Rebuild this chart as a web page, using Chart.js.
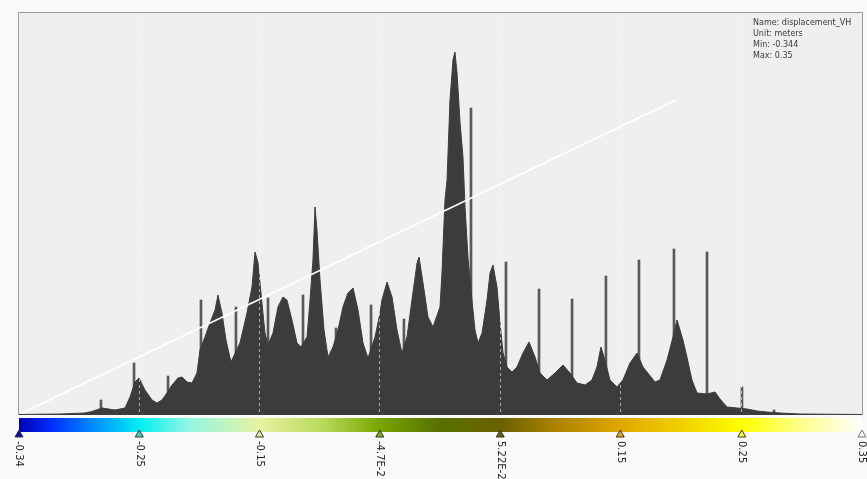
<!DOCTYPE html>
<html>
<head>
<meta charset="utf-8">
<title>displacement_VH histogram</title>
<script src="https://cdn.jsdelivr.net/npm/chart.js@4.4.1/dist/chart.umd.min.js"></script>
<style>
    html, body { margin: 0; padding: 0; background: #fafafa; }
    #wrap { width: 867px; height: 479px; }
</style>
</head>
<body>
<div id="wrap"><canvas id="histChart" width="867" height="479"></canvas></div>
<script>
// Axis ticks (value range -0.344 .. 0.35)
const tickValues = [-0.344, -0.245, -0.146, -0.047, 0.0522, 0.151, 0.251, 0.35];
const tickLabels = ['-0.34', '-0.25', '-0.15', '-4.7E-2', '5.22E-2', '0.15', '0.25', '0.35'];

// Histogram outline (value, count)
const histX = [
    -0.344, -0.3102, -0.2897, -0.2839, -0.2757, -0.2650, -0.2567, -0.2526, -0.2485, -0.2452,
    -0.2403, -0.2345, -0.2304, -0.2263, -0.2222, -0.2180, -0.2131, -0.2098, -0.2057, -0.2016,
    -0.1975, -0.1950, -0.1909, -0.1868, -0.1826, -0.1802, -0.1769, -0.1736, -0.1695, -0.1621,
    -0.1563, -0.1522, -0.1497, -0.1472, -0.1440, -0.1415, -0.1390, -0.1349, -0.1308, -0.1267,
    -0.1234, -0.1193, -0.1151, -0.1118, -0.1069, -0.1044, -0.1020, -0.1003, -0.0987, -0.0962,
    -0.0929, -0.0896, -0.0855, -0.0814, -0.0773, -0.0732, -0.0690, -0.0649, -0.0608, -0.0567,
    -0.0509, -0.0468, -0.0452, -0.0410, -0.0369, -0.0328, -0.0287, -0.0246, -0.0205, -0.0163,
    -0.0147, -0.0114, -0.0073, -0.0032, 0.0026, 0.0042, 0.0067, 0.0084, 0.0108, 0.0125,
    0.0133, 0.0149, 0.0166, 0.0191, 0.0215, 0.0232, 0.0256, 0.0289, 0.0314, 0.0339,
    0.0372, 0.0413, 0.0438, 0.0462, 0.0495, 0.0520, 0.0545, 0.0577, 0.0619, 0.0660,
    0.0709, 0.0759, 0.0808, 0.0849, 0.0907, 0.0973, 0.1038, 0.1096, 0.1154, 0.1220,
    0.1277, 0.1318, 0.1351, 0.1384, 0.1425, 0.1483, 0.1532, 0.1590, 0.1648, 0.1697,
    0.1796, 0.1837, 0.1895, 0.1944, 0.1977, 0.2026, 0.2059, 0.2100, 0.2142, 0.2224,
    0.2290, 0.2331, 0.2389, 0.2471, 0.2553, 0.2636, 0.2718, 0.2825, 0.2990, 0.35
];
const histY = [
    0.5, 1, 2, 3.5, 7, 5, 7, 18, 33, 37,
    25, 15, 12, 15, 22, 30, 37, 38, 33, 32,
    42, 65, 78, 92, 105, 120, 102, 75, 53, 72,
    102, 128, 163, 152, 112, 82, 70, 82, 108, 118,
    115, 95, 72, 68, 78, 115, 155, 208, 185, 135,
    85, 58, 68, 85, 108, 122, 127, 105, 72, 57,
    78, 102, 115, 133, 118, 85, 62, 78, 115, 152,
    158, 132, 98, 88, 108, 142, 215, 235, 315, 342,
    355, 363, 342, 292, 258, 208, 158, 115, 85, 72,
    82, 115, 142, 150, 128, 92, 62, 48, 43, 48,
    62, 73, 58, 42, 35, 42, 50, 42, 32, 30,
    35, 48, 68, 55, 35, 28, 35, 52, 62, 48,
    33, 35, 55, 78, 95, 75, 58, 35, 22, 21,
    23, 16, 8, 7, 6, 4, 3, 2, 1, 0.5
];

// Isolated tall single-bin spikes
const spikeX = [-0.2765, -0.2493, -0.2213, -0.1942, -0.1654, -0.1390, -0.1102, -0.0830, -0.0542, -0.0271,
    0.0281, 0.0569, 0.0841, 0.1113, 0.1392, 0.1664, 0.1952, 0.2224, 0.2512, 0.2776];
const spikeY = [15, 52, 39, 115, 108, 117, 120, 87, 110, 96,
    307, 153, 126, 116, 139, 155, 166, 163, 28, 5];

// White reference line
const trendX = [-0.3415, 0.1969];
const trendY = [2, 315];

const infoLines = ['Name: displacement_VH', 'Unit: meters', 'Min: -0.344', 'Max: 0.35'];

// Colour ramp under the plot
const rampPos = [0, 0.04, 0.09, 0.142, 0.2, 0.286, 0.36, 0.428, 0.5, 0.571, 0.64, 0.714, 0.78, 0.857, 0.93, 1];
const rampCol = ['#0000b4', '#0030ff', '#0090ff', '#00eef0', '#90f6e4', '#e8f2a0', '#b8da5c', '#78a600',
    '#587000', '#6a6000', '#b08400', '#e0a800', '#f0cc00', '#ffff00', '#ffff90', '#ffffff'];
const markerCol = ['#0a0ac8', '#38d8d0', '#e4eea0', '#7eaa10', '#6c6200', '#e2aa10', '#ffff20', '#ffffff'];

const toPoints = (xs, ys) => xs.map((x, i) => ({ x: x, y: ys[i] }));

const decorPlugin = {
    id: 'decor',
    beforeDraw: function (chart) {
        const ctx = chart.ctx;
        const a = chart.chartArea;
        ctx.save();
        ctx.fillStyle = '#fafafa';
        ctx.fillRect(0, 0, chart.width, chart.height);
        ctx.fillStyle = '#efefef';
        ctx.fillRect(a.left, a.top, a.right - a.left, a.bottom - a.top);
        ctx.restore();
    },
    afterDraw: function (chart) {
        const ctx = chart.ctx;
        const a = chart.chartArea;
        const xs = chart.scales.x;
        ctx.save();

        // frame
        ctx.strokeStyle = '#9a9a9a';
        ctx.lineWidth = 1;
        ctx.beginPath();
        ctx.moveTo(a.left - 0.5, a.bottom);
        ctx.lineTo(a.left - 0.5, a.top - 0.5);
        ctx.lineTo(a.right + 0.5, a.top - 0.5);
        ctx.lineTo(a.right + 0.5, a.bottom);
        ctx.stroke();

        // colour bar
        const barTop = a.bottom + 3;
        const barH = 14;
        const grad = ctx.createLinearGradient(a.left, 0, a.right, 0);
        rampPos.forEach((p, i) => grad.addColorStop(p, rampCol[i]));
        ctx.fillStyle = grad;
        ctx.fillRect(a.left, barTop, a.right - a.left, barH);

        // markers + rotated labels
        ctx.font = '10px "DejaVu Sans", sans-serif';
        tickValues.forEach((v, i) => {
            const px = xs.getPixelForValue(v);
            const ty = barTop + barH - 2;
            ctx.beginPath();
            ctx.moveTo(px, ty);
            ctx.lineTo(px - 4, ty + 7);
            ctx.lineTo(px + 4, ty + 7);
            ctx.closePath();
            ctx.fillStyle = markerCol[i];
            ctx.fill();
            ctx.strokeStyle = i === tickValues.length - 1 ? '#777777' : '#333333';
            ctx.stroke();

            ctx.save();
            ctx.translate(px, ty + 11);
            ctx.rotate(Math.PI / 2);
            ctx.fillStyle = '#222222';
            ctx.textAlign = 'left';
            ctx.textBaseline = 'middle';
            ctx.fillText(tickLabels[i], 0, 0);
            ctx.restore();
        });

        // info block
        ctx.font = '8px "DejaVu Sans", sans-serif';
        ctx.fillStyle = '#3a3a3a';
        ctx.textAlign = 'left';
        ctx.textBaseline = 'middle';
        infoLines.forEach((t, i) => ctx.fillText(t, 753, 23 + i * 11));

        ctx.restore();
    }
};

const chart = new Chart(document.getElementById('histChart').getContext('2d'), {
    type: 'line',
    data: {
        datasets: [{
            label: 'trend',
            data: toPoints(trendX, trendY),
            borderColor: '#ffffff',
            borderWidth: 1.6,
            pointRadius: 0,
            fill: false,
            order: 0
        }, {
            label: 'histogram',
            data: toPoints(histX, histY),
            borderColor: '#3c3c3c',
            backgroundColor: '#3c3c3c',
            borderWidth: 1,
            pointRadius: 0,
            tension: 0,
            fill: 'origin',
            order: 1
        }, {
            type: 'bar',
            label: 'spikes',
            data: toPoints(spikeX, spikeY),
            backgroundColor: '#5a5a5a',
            barThickness: 2,
            order: 2
        }]
    },
    options: {
        responsive: false,
        animation: false,
        devicePixelRatio: 1,
        layout: { padding: { left: 19, right: 5, top: 13, bottom: 64 } },
        scales: {
            x: {
                type: 'linear',
                min: -0.344,
                max: 0.35,
                offset: false,
                afterBuildTicks: function (axis) {
                    axis.ticks = tickValues.map(v => ({ value: v }));
                },
                ticks: { display: false },
                grid: {
                    color: 'rgba(255,255,255,0.55)',
                    drawTicks: false,
                    tickLength: 0,
                    offset: false,
                    z: 1
                },
                border: { display: false, dash: [3, 3] }
            },
            y: {
                display: false,
                min: 0,
                max: 402
            }
        },
        plugins: {
            legend: { display: false },
            tooltip: { enabled: false }
        }
    },
    plugins: [decorPlugin]
});
</script>
</body>
</html>
